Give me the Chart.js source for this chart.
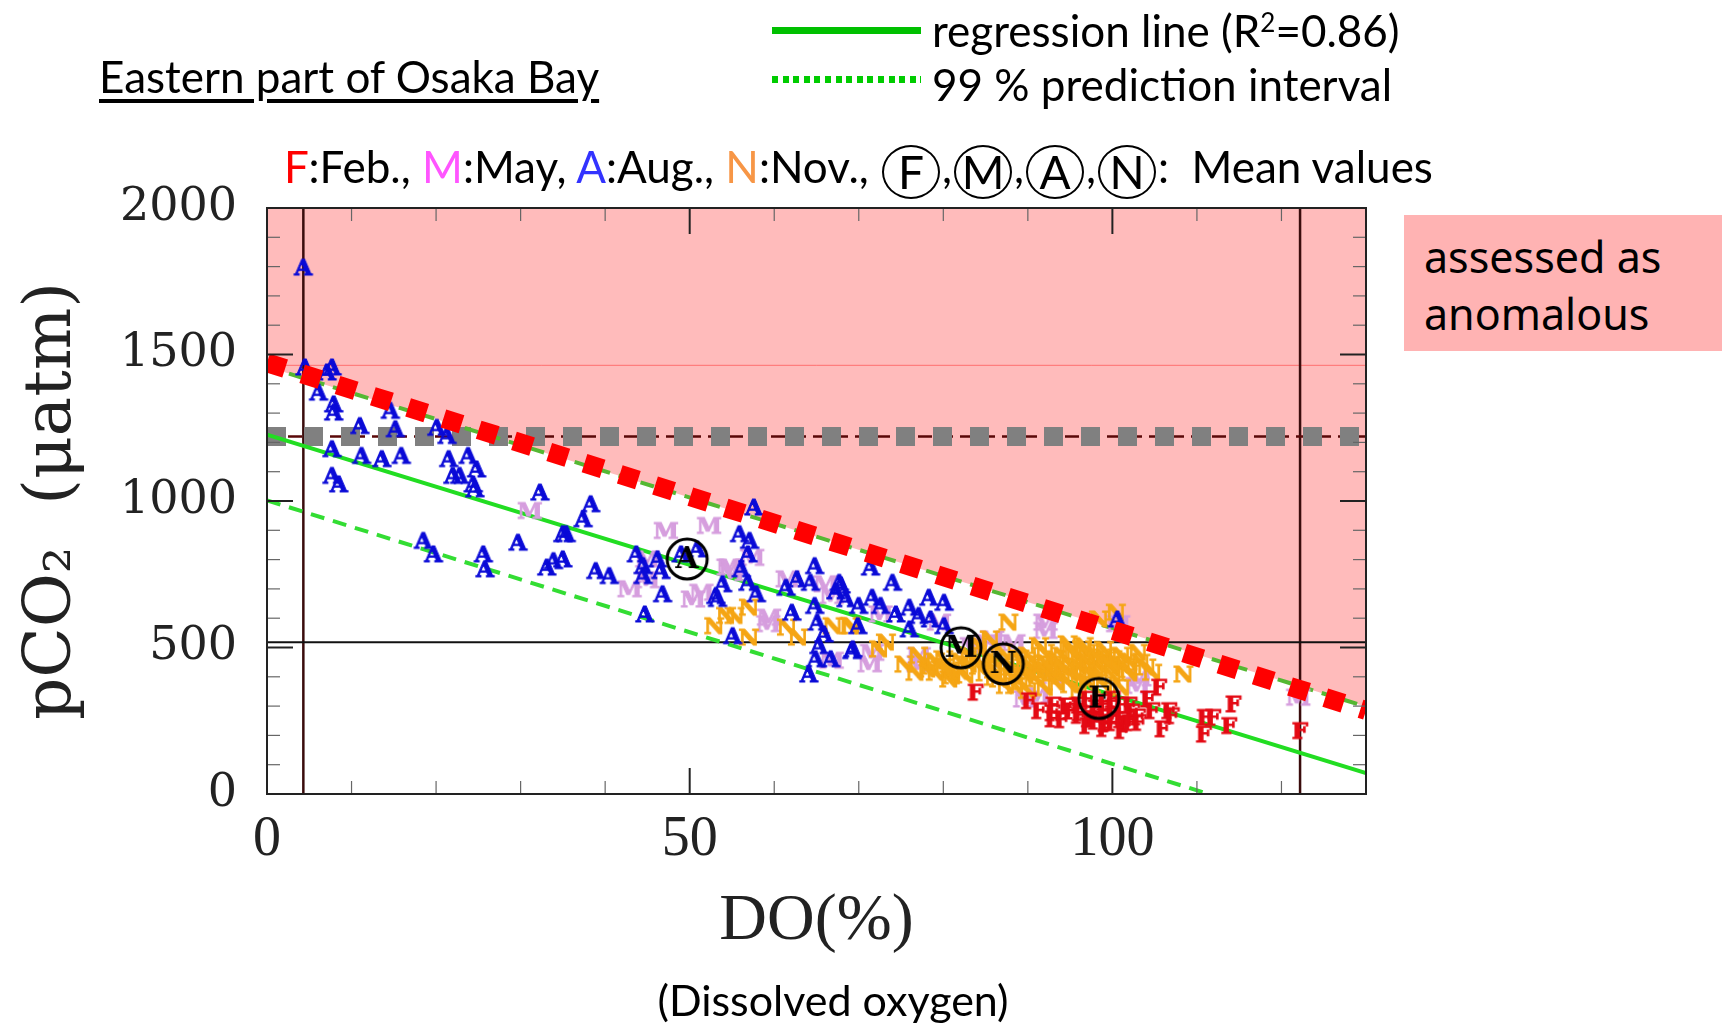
<!DOCTYPE html>
<html>
<head>
<meta charset="utf-8">
<script src="https://cdn.jsdelivr.net/npm/chart.js@4.4.0/dist/chart.umd.min.js"></script>
<style>
  body { margin: 0; background: #fff; }
  #wrap { position: relative; width: 1729px; height: 1024px; overflow: hidden; font-family: Lato, "Open Sans", sans-serif; color: #000; }
  #chart { position: absolute; left: 0; top: 0; }
  .txt { position: absolute; white-space: nowrap; line-height: 1; }
  .circ { display: inline-block; width: 54px; height: 50px; line-height: 50px; border: 2px solid #000; border-radius: 50%; text-align: center; vertical-align: middle; margin: 0 2px; font-size: 46px; }
  #box { position: absolute; left: 1404px; top: 215px; width: 318px; height: 136px; background: rgb(255,179,179); box-sizing: border-box; padding: 13px 0 0 20px; font-family: "Noto Sans", sans-serif; font-size: 43px; line-height: 57px; }
</style>
</head>
<body>
<div id="wrap">
  <canvas id="chart" width="1729" height="1024"></canvas>
  <div class="txt" style="left:99px; top:54px; font-size:44px; text-decoration:underline; text-underline-offset:6px;">Eastern part of Osaka Bay</div>
  <div style="position:absolute; left:772px; top:27px; width:149px; height:7px; background:#00c000;"></div>
  <div class="txt" style="left:932px; top:8px; font-size:44px;">regression line (R<sup style="font-size:26px; vertical-align:15px;">2</sup>=0.86)</div>
  <div style="position:absolute; left:772px; top:76px; width:149px; height:7px; background:repeating-linear-gradient(90deg, #00cc00 0 6px, transparent 6px 10.6px);"></div>
  <div class="txt" style="left:932px; top:62px; font-size:44px;">99 % prediction interval</div>
  <div class="txt" style="left:284px; top:138px; font-size:44px; line-height:56px;"><span style="color:#ff0000">F</span>:Feb., <span style="color:#ff55ff">M</span>:May, <span style="color:#3333ff">A</span>:Aug., <span style="color:#f79646">N</span>:Nov., <span class="circ">F</span>,<span class="circ">M</span>,<span class="circ">A</span>,<span class="circ">N</span>:&nbsp; Mean values</div>
  <div id="box">assessed as<br>anomalous</div>
  <div class="txt" style="left:833px; top:978px; transform:translateX(-50%); font-size:43px;">(Dissolved oxygen)</div>
</div>
<script>
// Aug. samples [DO %, pCO2]
const augPoints = [
  [4.3,1795],[4.5,1454],[7.1,1437],[7.7,1454],[6.1,1368],[7.9,1328],[7.9,1300],[11.0,1254],[14.6,1306],[15.2,1243],
  [20.1,1248],[21.3,1220],[7.7,1175],[11.2,1152],[13.6,1141],[15.9,1152],[21.5,1141],[23.8,1152],[24.8,1106],[22.0,1084],
  [22.8,1084],[24.4,1055],[24.6,1038],[7.7,1084],[8.5,1055],[32.3,1027],[18.5,862],[19.7,816],[25.6,816],[25.8,765],
  [29.7,856],[33.1,771],[33.9,793],[35.0,885],[35.0,799],[38.3,987],[37.4,936],[35.4,885],[38.9,759],[40.5,742],
  [43.7,816],[44.5,776],[44.5,742],[46.2,799],[46.6,759],[46.8,680],[44.7,611],[49.0,816],[50.9,833],[53.9,714],
  [53.1,674],[53.3,664],[55.9,885],[57.1,862],[56.9,816],[56.1,765],[56.9,719],[57.9,680],[57.6,976],[55.1,537],
  [61.4,702],[62.7,731],[64.3,719],[64.8,776],[62.1,617],[65.1,583],[65.9,543],[65.3,503],[64.9,458],[64.1,406],
  [66.7,458],[69.2,486],[67.7,719],[68.5,663],[67.3,690],[64.8,640],[71.4,771],[74.0,719],[67.9,710],[70.0,640],
  [71.6,668],[72.6,640],[74.4,611],[76.0,634],[77.1,606],[78.3,668],[80.1,651],[78.5,594],[80.1,571],[76.0,560],
  [69.3,492],[69.9,571],[100.6,594]
];
// May samples
const mayPoints = [
  [31.1,964],[47.2,896],[52.3,913],[42.9,697],[51.4,685],[54.6,771],[57.4,804],[59.4,600],[61.6,731],[66.1,714],
  [45.0,728],[45.0,799],[54.9,771],[50.4,662],[55.0,752],[59.3,578],[66.8,674],[66.8,453],[71.3,441],[77.1,441],
  [85.0,513],[88.3,513],[92.1,555],[91.2,333],[103.2,393],[100.7,578],[92.1,583],[85.8,526],[79.5,583],[77.1,469],
  [71.6,480],[89.7,321],[92.9,401],[83.4,503],[72.6,611],[103.0,367],[122.0,327]
];
// Nov. samples
const novPoints = [
  [52.9,571],[54.3,606],[55.3,606],[57.0,634],[57.0,532],[61.5,566],[62.8,532],[66.9,571],[68.9,571],[69.1,571],
  [73.2,515],[72.4,492],[75.4,440],[78.5,433],[79.1,412],[80.7,389],[82.6,403],[84.2,433],[87.7,583],[87.4,367],
  [89.7,403],[88.9,458],[91.3,503],[93.3,458],[95.3,480],[96.0,433],[98.0,444],[100.0,458],[94.7,509],[96.6,503],
  [91.3,412],[93.3,378],[88.5,367],[86.6,389],[85.5,526],[84.2,503],[80.0,458],[78.1,423],[76.7,412],[98.4,594],
  [100.4,617],[108.4,406],[103.3,446],[104.7,412],[96.4,492],[99.0,464],[101.1,437],[101.9,421],[99.9,426],
  [81,420],[82,450],[83,470],[85,410],[86,450],[87,480],[88,430],[89,380],[90,440],[90,470],
  [91,440],[92,480],[92,420],[93,440],[94,400],[94,470],[95,440],[95,410],[96,460],[97,420],
  [97,480],[98,400],[99,490],[100,400],[101,470],[102,450],[97,380],[95,370],[92,360],[90,350],
  [99,370],[101,360],[96,350],[83,440],[81,400],[79,450],[77,470],[86,420],[88,400],[103,480],
  [80,430],[84,455],[86,395],[89,460],[91,390],[93,410],[94,430],[96,395],[98,420],[100,440],
  [102,410],[104,430],[97,450],[95,490],[99,455],[85,470],[82,415],[90,415],[92,445],[98,470]
];
// Feb. samples
const febPoints = [
  [83.8,344],[90.1,315],[91.3,281],[92.9,274],[94.5,297],[96.1,274],[92.9,253],[97.6,253],[99.2,241],[100.0,264],
  [105.5,361],[104.2,321],[104.7,281],[106.7,281],[107.0,264],[105.9,219],[103.1,241],[101.5,236],[101.1,213],[99.2,236],
  [97.2,253],[102.3,276],[114.3,304],[110.9,258],[111.9,258],[110.8,201],[113.8,230],[122.2,213],
  [96,300],[97,320],[98,290],[99,310],[100,290],[101,300],[98,270],[100,240],[102,300],[103,260],[95,280],[94,250],
  [99,220],[101,250],[97,230],[93,300],[96,265],[99,280],[100,320],[102,240],[98,245]
];
// monthly means
const meanLabels = ["A", "M", "N", "F"];
const meanDO = [49.7, 82.1, 87.1, 98.4];
const meanPCO2 = [802, 499, 444, 326];

// lines
const regressionLine = [[0,1226],[130,71]];
const upperPI = [[0,1458],[130,298]];
const lowerPI = [[0,1002],[111.4,0]];
const anomalyEdge = [[0,1472],[130,285]];
const grayLevel = 1220;
const blackLevel = 518;
const thinRedLevel = 1463;
const verticalDO = [4.3, 122.2];

const xTicks = [0, 50, 100];
const yTicks = [0, 500, 1000, 1500, 2000];
const xMax = 130;
const yMax = 2000;

const toXY = arr => arr.map(p => ({ x: p[0], y: p[1] }));

function letterMarker(ch, color) {
   const c = document.createElement("canvas");
   c.width = 28;
   c.height = 28;
   const g = c.getContext("2d");
   g.font = 'bold 23px "DejaVu Serif"';
   g.fillStyle = color;
   g.strokeStyle = color;
   g.lineWidth = 1;
   g.textAlign = "center";
   g.textBaseline = "middle";
   g.fillText(ch, 14, 15);
   g.strokeText(ch, 14, 15);
   return c;
}

function meanMarker(ch) {
   const c = document.createElement("canvas");
   c.width = 46;
   c.height = 46;
   const g = c.getContext("2d");
   g.lineWidth = 3;
   g.strokeStyle = "#000";
   g.beginPath();
   g.arc(23, 23, 20, 0, Math.PI * 2);
   g.stroke();
   g.font = 'bold 30px "DejaVu Serif"';
   g.fillStyle = "#000";
   g.textAlign = "center";
   g.textBaseline = "middle";
   g.fillText(ch, 23, 24);
   return c;
}

function lineSet(data, color, width, dash, order, extra) {
   return Object.assign({
      data: toXY(data),
      showLine: true,
      borderColor: color,
      borderWidth: width,
      borderDash: dash || [],
      borderCapStyle: "butt",
      pointRadius: 0,
      fill: false,
      order: order
   }, extra || {});
}

function scatterSet(points, ch, color, order) {
   return {
      data: toXY(points),
      pointStyle: letterMarker(ch, color),
      pointRadius: 13,
      showLine: false,
      order: order
   };
}

// inner ticks and frame
const frameTicks = {
   id: "frameTicks",
   afterDatasetsDraw(chart) {
      const { ctx, chartArea: a, scales } = chart;
      const seg = (x1, y1, x2, y2) => {
         ctx.beginPath();
         ctx.moveTo(x1, y1);
         ctx.lineTo(x2, y2);
         ctx.stroke();
      };
      ctx.save();
      for (let v = 0; v <= yMax; v += 100) {
         const py = scales.y.getPixelForValue(v);
         const major = v % 500 === 0;
         const len = major ? 26 : 13;
         ctx.strokeStyle = major ? "#222" : "#666";
         ctx.lineWidth = major ? 2 : 1.2;
         seg(a.left, py, a.left + len, py);
         seg(a.right - len, py, a.right, py);
      }
      for (let v = 0; v <= xMax; v += 10) {
         const px = scales.x.getPixelForValue(v);
         const major = v % 50 === 0;
         const len = major ? 26 : 13;
         ctx.strokeStyle = major ? "#222" : "#666";
         ctx.lineWidth = major ? 2 : 1.2;
         seg(px, a.top, px, a.top + len);
         seg(px, a.bottom - len, px, a.bottom);
      }
      ctx.strokeStyle = "#222";
      ctx.lineWidth = 2;
      ctx.strokeRect(a.left, a.top, a.right - a.left, a.bottom - a.top);
      ctx.restore();
   }
};

const datasets = [
   lineSet(upperPI, "rgba(0,0,0,0)", 0, null, 30, { fill: "end", backgroundColor: "rgb(255,187,187)" }),
   lineSet([[0, thinRedLevel], [xMax, thinRedLevel]], "rgba(255,80,80,0.7)", 1, null, 29),
   lineSet([[verticalDO[0], 0], [verticalDO[0], yMax]], "#3a0c0c", 2.5, null, 28),
   lineSet([[verticalDO[1], 0], [verticalDO[1], yMax]], "#3a0c0c", 2.5, null, 28),
   lineSet([[0, blackLevel], [xMax, blackLevel]], "#111", 2, null, 27),
   lineSet([[0, grayLevel], [xMax, grayLevel]], "#5a0808", 2.5, [14, 7], 26),
   lineSet([[0, grayLevel], [xMax, grayLevel]], "#808080", 19, [19, 18], 25),
   lineSet(lowerPI, "#33dd33", 4, [14, 9], 24),
   lineSet(upperPI, "#55b833", 4, [14, 9], 23),
   lineSet(regressionLine, "#22dd22", 4, null, 22),
   scatterSet(mayPoints, "M", "rgb(214,158,222)", 12),
   scatterSet(novPoints, "N", "rgb(245,165,20)", 11),
   scatterSet(febPoints, "F", "rgb(228,10,20)", 10),
   scatterSet(augPoints, "A", "rgb(10,10,215)", 9),
   lineSet(anomalyEdge, "#ff0000", 19, [19, 18], 5),
   {
      data: meanDO.map((d, i) => ({ x: d, y: meanPCO2[i] })),
      pointStyle: meanLabels.map(l => meanMarker(l)),
      pointRadius: 23,
      showLine: false,
      order: 1
   }
];

const ctx = document.getElementById("chart").getContext("2d");
const chart = new Chart(ctx, {
   type: "scatter",
   data: { datasets: datasets },
   options: {
      responsive: false,
      animation: false,
      layout: { padding: { top: 208, right: 363, left: 0, bottom: 0 } },
      plugins: { legend: { display: false }, tooltip: { enabled: false } },
      scales: {
         x: {
            type: "linear",
            min: 0,
            max: xMax,
            afterBuildTicks: s => { s.ticks = xTicks.map(v => ({ value: v })); },
            afterFit: s => { s.height = 230; },
            grid: { display: false, drawTicks: false },
            border: { display: false },
            ticks: { autoSkip: false, maxRotation: 0, padding: 13, color: "#222", font: { family: '"Liberation Serif"', size: 56 }, callback: v => String(v) },
            title: { display: true, text: "DO(%)", color: "#222", font: { family: '"Liberation Serif"', size: 66 }, padding: { top: 0, bottom: 63 } }
         },
         y: {
            type: "linear",
            min: 0,
            max: yMax,
            afterBuildTicks: s => { s.ticks = yTicks.map(v => ({ value: v })); },
            afterFit: s => { s.width = 267; },
            grid: { display: false, drawTicks: false },
            border: { display: false },
            ticks: { autoSkip: false, padding: 30, color: "#222", font: { family: '"DejaVu Serif"', size: 46 }, callback: v => String(v) },
            title: { display: true, text: "pCO\u2082  (\u03bcatm)", color: "#222", font: { family: '"DejaVu Serif"', size: 66 }, padding: { top: 13, bottom: 0 } }
         }
      }
   },
   plugins: [frameTicks]
});
</script>
</body>
</html>
